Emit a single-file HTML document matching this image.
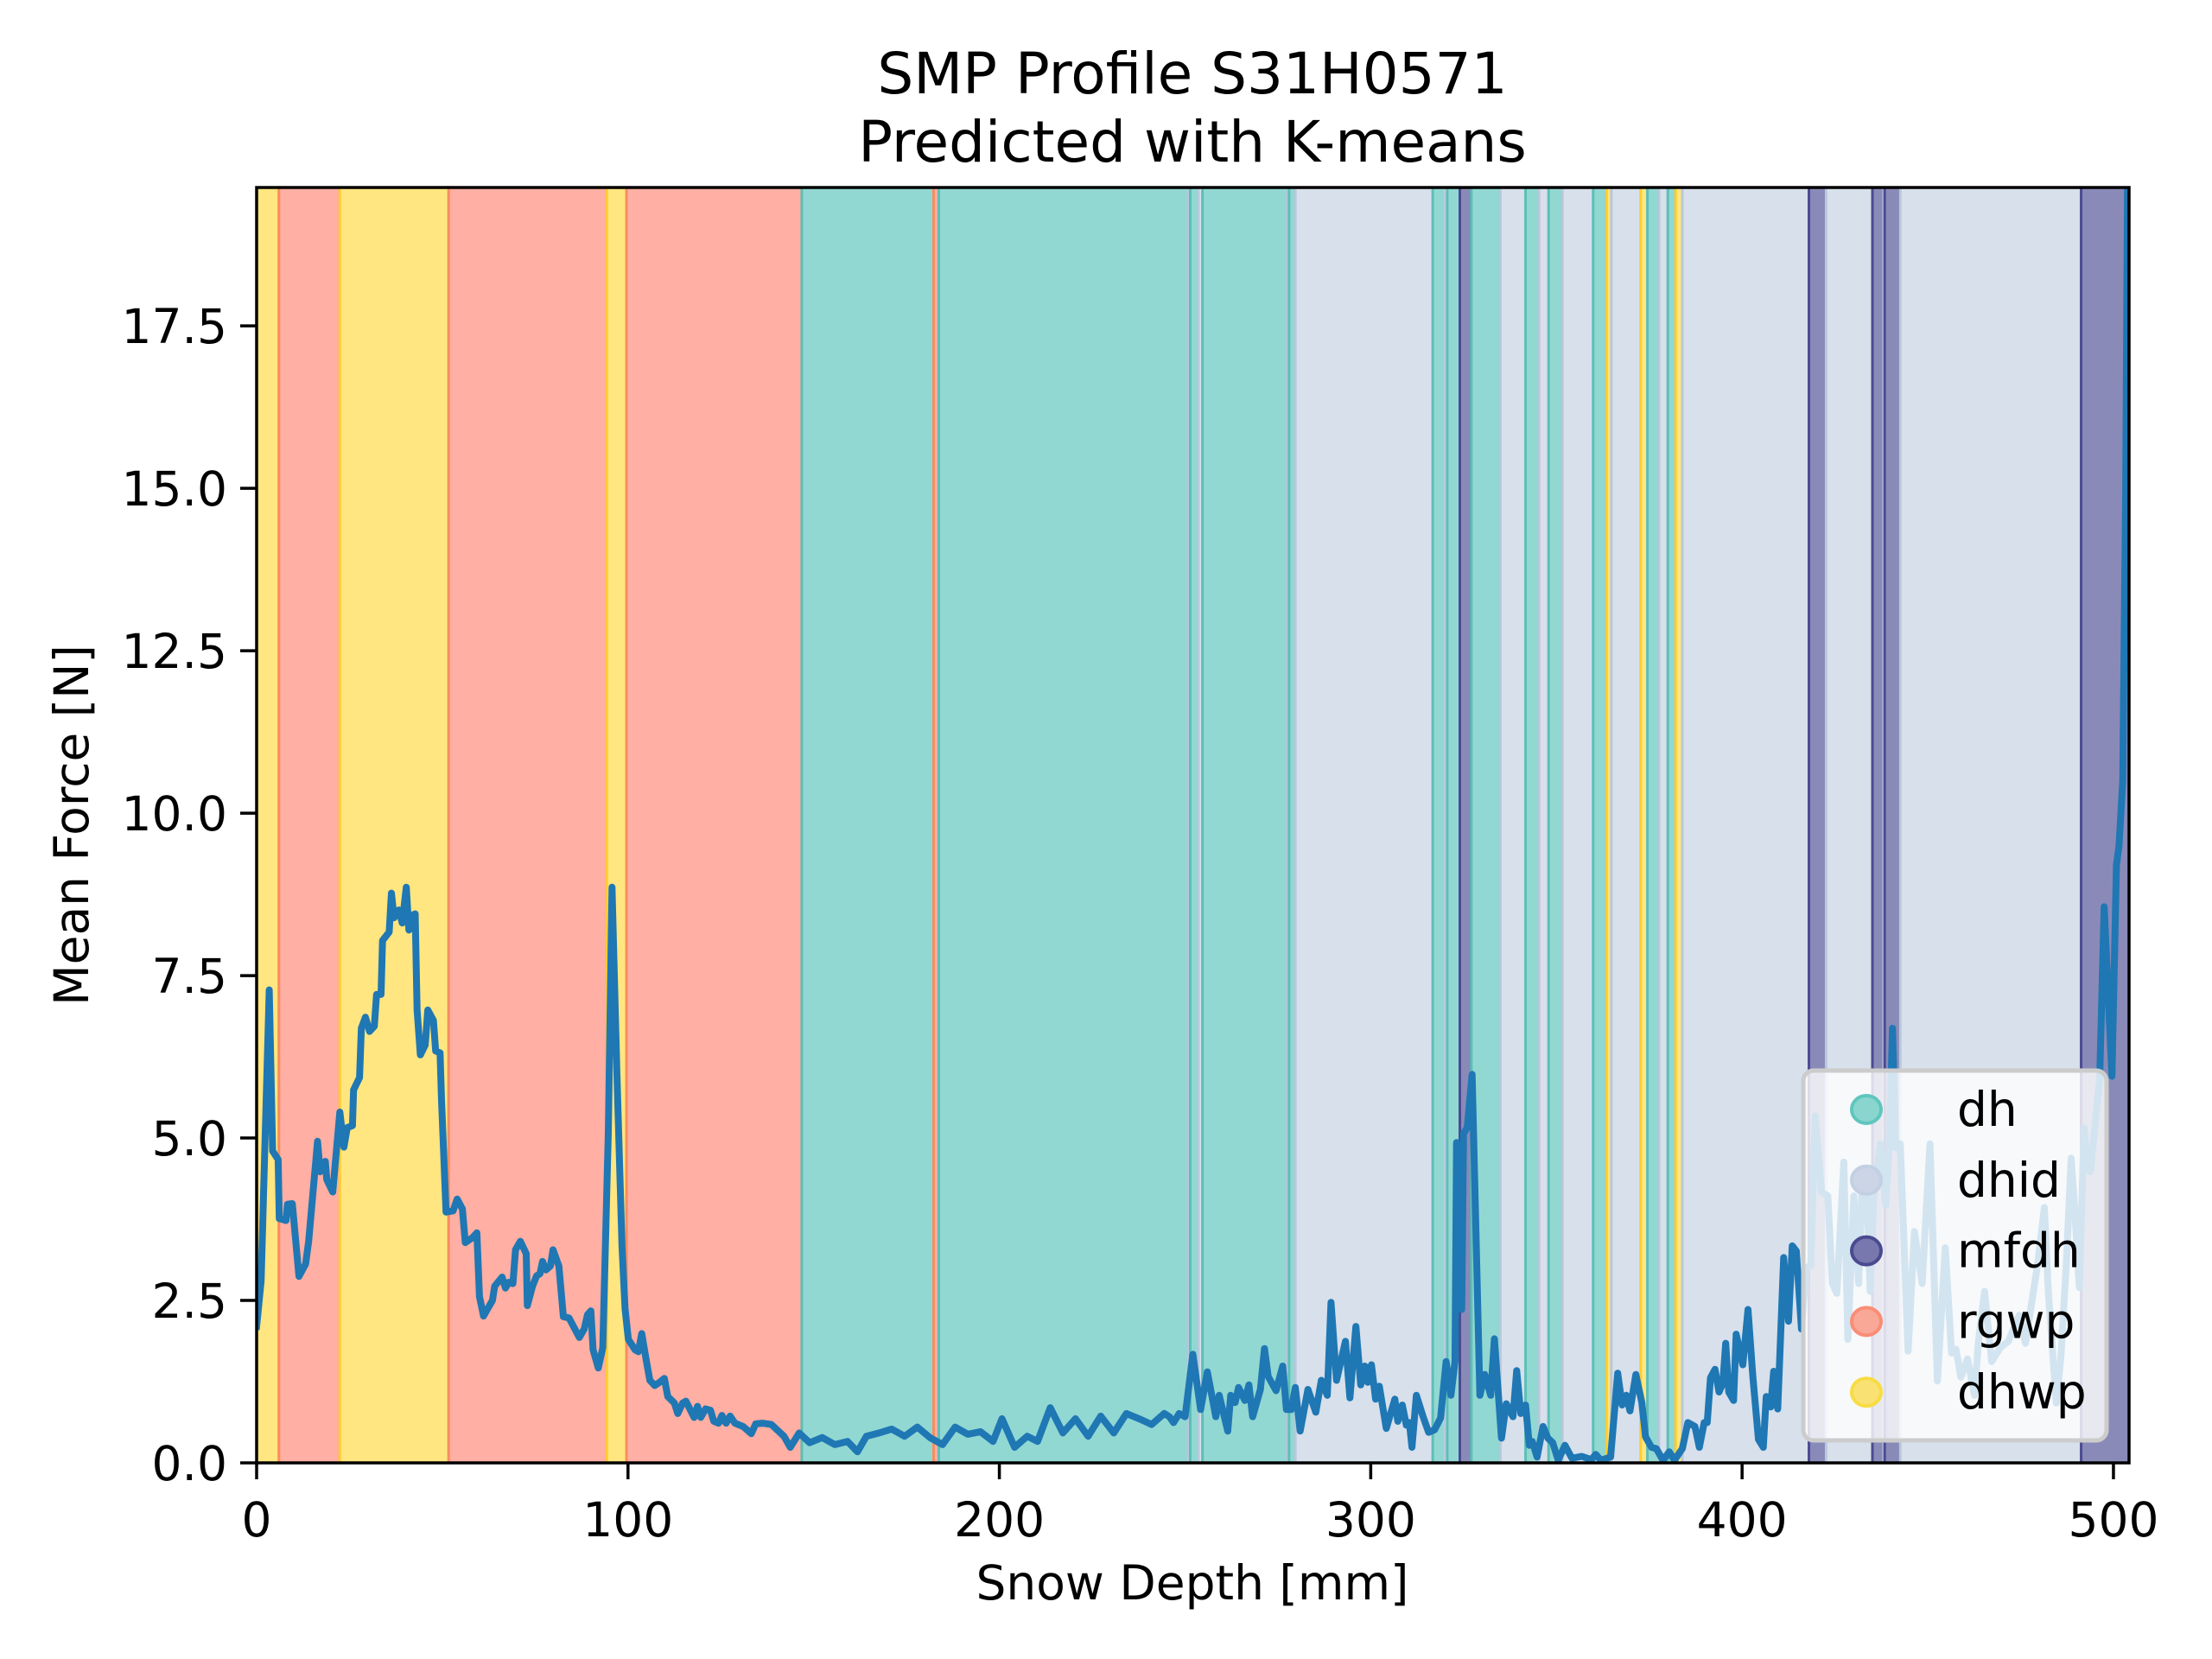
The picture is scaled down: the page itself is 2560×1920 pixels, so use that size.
<!DOCTYPE html>
<html><head><meta charset="utf-8"><style>
html,body{margin:0;padding:0;background:#fff;}
svg{display:block;font-family:"DejaVu Sans","Liberation Sans",sans-serif;}
</style></head><body>
<svg id="chart" width="2560" height="1920" viewBox="0 0 2560 1920">
<defs><clipPath id="plotclip"><rect x="297" y="217" width="2167" height="1476"/></clipPath></defs>
<rect width="2560" height="1920" fill="#fff"/>
<g id="bands" clip-path="url(#plotclip)"></g>
<g id="line" clip-path="url(#plotclip)"></g>
<rect x="297" y="217" width="2167" height="1476" fill="none" stroke="#000" stroke-width="3.5"/>
<g id="xticks"></g>
<g id="yticks"></g>
<text x="1380" y="108" font-size="66" text-anchor="middle">SMP Profile S31H0571</text>
<text x="1380" y="187" font-size="66" text-anchor="middle">Predicted with K-means</text>
<text x="1380" y="1851" font-size="55" text-anchor="middle">Snow Depth [mm]</text>
<text transform="translate(102,955) rotate(-90)" font-size="55" text-anchor="middle">Mean Force [N]</text>
<g id="legend"></g>
</svg>
<script>
const NS="http://www.w3.org/2000/svg";
const classNames=["dh","dhid","mfdh","rgwp","dhwp"];
const bandStarts=[0,6.0,22.4,51.7,94.3,99.6,146.8,182.3,183.7,250.8,251.4,253.6,254.7,277.5,278.0,279.7,316.7,319.8,320.6,324.0,327.1,334.9,341.7,345.3,347.9,351.6,359.9,363.5,364.8,372.7,374.5,377.6,380.0,382.1,383.9,418.0,422.6,435.1,438.1,438.4,442.6,491.3];
const bandEnds=[6.0,22.4,51.7,94.3,99.6,146.8,182.3,183.7,250.8,251.4,253.6,254.7,277.5,278.0,279.7,316.7,319.8,320.6,324.0,327.1,334.9,341.7,345.3,347.9,351.6,359.9,363.5,364.8,372.7,374.5,377.6,380.0,382.1,383.9,418.0,422.6,435.1,438.1,438.4,442.6,491.3,505];
const bandClasses=["dhwp","rgwp","dhwp","rgwp","dhwp","rgwp","dh","rgwp","dh","dhid","dh","dhid","dh","dhid","dh","dhid","dh","dhid","dh","mfdh","dh","dhid","dh","dhid","dh","dhid","dh","dhwp","dhid","dhwp","dh","dhid","dh","dhwp","dhid","mfdh","dhid","mfdh","dhid","mfdh","dhid","mfdh"];
const depth=[0,1.2,3.4,4.3,5.8,6.1,7.9,8.3,9.6,11.4,13.2,14.0,16.4,17.1,18.5,18.9,20.5,22.4,23.5,24.4,25.8,26.1,27.7,28.2,29.3,30.4,31.7,32.3,33.5,33.9,35.7,36.3,37.0,38.3,39.2,40.3,41.0,41.9,42.7,43.2,44.1,45.4,46.1,47.6,48.2,49.4,49.8,51.0,52.9,54.0,55.4,56.2,58.2,59.3,60.0,61.1,63.5,64.1,66.1,67.0,67.9,69.0,69.7,71.0,72.6,72.9,74.3,75.4,76.3,77.0,77.9,79.1,79.8,81.4,82.6,84.1,86.9,88.2,89.1,90.0,90.6,92.0,93.2,94.7,95.7,97.0,98.4,99.2,100.1,101.9,102.8,103.7,105.0,105.9,107.2,108.5,109.8,110.7,112.5,113.4,114.7,115.6,117.8,118.7,119.6,120.9,122.2,123.1,124.4,125.3,126.4,127.5,128.8,131.0,133.2,134.4,136.2,138.6,142.0,143.7,146.1,148.9,152.3,155.7,159.1,161.8,164.2,167.6,171.0,174.5,177.9,181.3,184.7,188.1,191.5,194.9,198.3,200.7,204.1,207.5,210.3,213.7,217.1,220.5,223.9,227.3,230.8,234.2,237.6,241.0,244.4,245.8,246.9,248.4,250.0,252.1,254.2,256.0,258.3,259.2,261.5,262.3,263.5,264.4,266.1,267.2,268.2,270.3,271.4,272.4,274.5,276.3,277.3,278.6,279.7,281.0,283.1,285.2,286.7,288.3,289.3,290.8,293.2,294.4,296.0,297.3,298.4,299.2,300.2,301.3,302.3,304.2,306.5,307.3,308.5,309.6,310.4,311.1,312.3,314.1,315.6,317.2,318.8,320.3,321.6,322.7,323.1,324.5,325.0,326.0,327.3,328.3,329.4,330.7,332.3,333.3,335.2,336.5,338.3,339.3,340.4,341.7,342.7,343.5,344.8,346.4,347.7,349.0,350.5,352.3,354.2,356.8,359.4,360.6,362.0,364.6,366.5,367.7,368.8,369.8,371.4,373.0,374.0,375.6,376.9,378.7,380.4,381.8,383.9,385.4,387.3,388.5,389.8,390.6,391.5,392.7,393.8,394.8,395.6,396.4,397.7,398.4,400.2,401.6,402.9,404.4,405.7,406.5,407.7,408.5,409.6,411.2,412.5,413.5,414.6,416.0,417.2,418.5,419.7,421.4,423.1,424.3,425.5,427.4,428.5,430.1,431.4,432.2,433.4,434.5,435.5,437.2,438.7,439.7,440.5,441.4,442.6,444.7,446.4,448.5,450.6,452.6,454.7,456.4,457.6,458.9,460.7,462.6,463.6,465.3,467.2,469.6,471.7,474.6,476.3,479.6,481.4,482.5,484.6,485.9,487.3,488.6,489.6,490.8,492.1,493.0,493.8,496.3,497.5,499.6,500.8,501.5,502.5,503.3,503.8];
const force=[2.1,2.8,7.28,4.8,4.67,3.76,3.73,3.98,3.99,2.87,3.06,3.41,4.95,4.48,4.64,4.36,4.17,5.4,4.86,5.16,5.19,5.74,5.93,6.69,6.86,6.64,6.72,7.21,7.21,8.04,8.17,8.77,8.39,8.51,8.31,8.86,8.2,8.43,8.45,6.97,6.28,6.43,6.97,6.81,6.34,6.31,5.58,3.86,3.88,4.06,3.91,3.39,3.47,3.54,2.56,2.26,2.5,2.72,2.86,2.69,2.78,2.76,3.28,3.41,3.22,2.42,2.72,2.88,2.91,3.1,2.97,3.03,3.28,3.03,2.25,2.23,1.93,2.06,2.28,2.34,1.74,1.46,1.77,5.08,8.86,6.02,3.32,2.37,1.9,1.74,1.71,1.99,1.55,1.27,1.19,1.24,1.3,1.02,0.92,0.76,0.92,0.95,0.7,0.87,0.7,0.83,0.81,0.64,0.61,0.73,0.61,0.72,0.61,0.56,0.45,0.6,0.61,0.59,0.41,0.24,0.46,0.31,0.39,0.28,0.33,0.17,0.41,0.46,0.52,0.41,0.55,0.39,0.28,0.55,0.44,0.48,0.33,0.68,0.24,0.41,0.33,0.85,0.46,0.68,0.41,0.72,0.46,0.76,0.68,0.59,0.76,0.71,0.62,0.76,0.71,1.67,0.82,1.4,0.71,1.04,0.49,1.04,0.93,1.16,0.96,1.2,0.71,1.13,1.76,1.33,1.11,1.49,0.82,0.82,1.16,0.49,1.13,0.78,1.27,1.04,2.47,1.27,1.87,1.0,2.1,1.2,1.49,1.24,1.51,0.98,1.18,0.53,0.98,0.64,0.89,0.58,0.62,0.24,1.04,0.71,0.47,0.51,0.69,1.56,1.04,1.56,4.93,2.36,5.07,5.16,5.98,3.64,1.04,1.36,1.04,1.91,0.38,0.91,0.71,1.42,0.76,0.89,0.27,0.33,0.09,0.56,0.38,0.31,0.04,0.27,0.07,0.1,0.05,0.13,0.04,0.09,1.38,0.89,1.04,0.8,1.36,0.93,0.4,0.24,0.22,0.04,0.17,0.04,0.22,0.62,0.56,0.24,0.62,0.62,1.31,1.44,1.09,1.22,1.84,1.09,0.96,1.98,1.51,2.36,1.33,0.36,0.24,1.02,0.86,1.41,0.83,3.16,2.18,3.34,3.26,2.06,3.0,3.04,5.34,4.17,4.11,2.76,2.61,4.63,1.9,4.11,2.76,4.11,4.39,2.64,4.11,4.91,3.96,4.97,6.69,4.85,4.91,1.72,3.56,2.76,4.91,1.26,3.31,1.69,1.75,1.32,1.6,1.04,1.84,2.64,1.56,1.78,1.87,2.27,1.84,3.07,3.93,2.61,0.92,1.66,3.07,4.69,3.87,2.7,5.15,4.54,4.48,5.92,8.56,5.95,9.2,9.5,10.5,15.0,19.8];
const xTicks=[0,100,200,300,400,500];
const yTicks=[0,2.5,5,7.5,10,12.5,15,17.5];
const yTickLabels=["0.0","2.5","5.0","7.5","10.0","12.5","15.0","17.5"];

const X0=297,X1=2464,Y0=1693,Y1=217,XMAX=504.2,YMAX=19.63;
function sx(v){return X0+v/XMAX*(X1-X0);}
function sy(v){return Y0-v/YMAX*(Y0-Y1);}
const fillCol={dh:"#92d8d2",dhid:"#d7e0eb",mfdh:"#8a8ab8",rgwp:"#ffafa3",dhwp:"#ffe680"};
const edgeCol={dh:"#5cbfb7",dhid:"#b8c8dc",mfdh:"#4b4b94",rgwp:"#fb8c5e",dhwp:"#ffcc33"};

const gB=document.getElementById('bands');
for(let i=0;i<bandStarts.length;i++){
  const c=bandClasses[i];
  const r=document.createElementNS(NS,'rect');
  const a=sx(bandStarts[i]),b=sx(bandEnds[i]);
  r.setAttribute('x',a);r.setAttribute('y',Y1);
  r.setAttribute('width',Math.max(b-a,1));r.setAttribute('height',Y0-Y1);
  r.setAttribute('fill',fillCol[c]);
  
  
  gB.appendChild(r);
  [a,b].forEach(function(xx){
    const l=document.createElementNS(NS,'line');
    l.setAttribute('x1',xx);l.setAttribute('x2',xx);l.setAttribute('y1',Y1);l.setAttribute('y2',Y0);
    l.setAttribute('stroke',edgeCol[c]);l.setAttribute('stroke-width','3');
    
    
    gB.appendChild(l);
  });
}
const gL=document.getElementById('line');
let d='';
for(let i=0;i<depth.length;i++){d+=(i?'L':'M')+sx(depth[i]).toFixed(1)+' '+sy(force[i]).toFixed(1);}
const p=document.createElementNS(NS,'path');
p.setAttribute('d',d);p.setAttribute('fill','none');p.setAttribute('stroke','#1f77b4');
p.setAttribute('stroke-width','8');p.setAttribute('stroke-linejoin','round');p.setAttribute('stroke-linecap','square');


gL.appendChild(p);

const gX=document.getElementById('xticks');
xTicks.forEach(function(t){
  const l=document.createElementNS(NS,'line');
  l.setAttribute('x1',sx(t));l.setAttribute('x2',sx(t));l.setAttribute('y1',Y0);l.setAttribute('y2',Y0+19);
  l.setAttribute('stroke','#000');l.setAttribute('stroke-width','3.5');
  
  
  gX.appendChild(l);
  const tx=document.createElementNS(NS,'text');
  tx.setAttribute('x',sx(t));tx.setAttribute('y',Y0+85);tx.setAttribute('font-size','55');tx.setAttribute('text-anchor','middle');
  tx.textContent=String(t);
  
  
  gX.appendChild(tx);
});
const gY=document.getElementById('yticks');
yTicks.forEach(function(t,i){
  const l=document.createElementNS(NS,'line');
  l.setAttribute('x1',X0-19);l.setAttribute('x2',X0);l.setAttribute('y1',sy(t));l.setAttribute('y2',sy(t));
  l.setAttribute('stroke','#000');l.setAttribute('stroke-width','3.5');
  
  
  gY.appendChild(l);
  const tx=document.createElementNS(NS,'text');
  tx.setAttribute('x',X0-34);tx.setAttribute('y',sy(t)+20);tx.setAttribute('font-size','55');tx.setAttribute('text-anchor','end');
  tx.textContent=yTickLabels[i];
  
  
  gY.appendChild(tx);
});

const gLeg=document.getElementById('legend');
const box=document.createElementNS(NS,'rect');
box.setAttribute('x',2087);box.setAttribute('y',1239);box.setAttribute('width',351);box.setAttribute('height',428);
box.setAttribute('rx',12);box.setAttribute('fill','rgba(255,255,255,0.8)');box.setAttribute('stroke','#cccccc');box.setAttribute('stroke-width','5');


gLeg.appendChild(box);
const legFill={dh:"#8ad6cf",dhid:"#cbd5e6",mfdh:"#7878ae",rgwp:"#f9a797",dhwp:"#f9e273"};
const legEdge={dh:"#5fc6be",dhid:"#c3cfe2",mfdh:"#4a4a90",rgwp:"#f98d76",dhwp:"#f7dc44"};
classNames.forEach(function(c,i){
  const yy=1284+i*81.8;
  const e=document.createElementNS(NS,'ellipse');
  e.setAttribute('cx',2160);e.setAttribute('cy',yy);e.setAttribute('rx',17);e.setAttribute('ry',16);
  e.setAttribute('fill',legFill[c]);e.setAttribute('stroke',legEdge[c]);e.setAttribute('stroke-width','4');
  
  
  gLeg.appendChild(e);
  const t=document.createElementNS(NS,'text');
  t.setAttribute('x',2265);t.setAttribute('y',yy+19);t.setAttribute('font-size','55');
  t.textContent=c;
  
  
  gLeg.appendChild(t);
});
</script>
</body></html>
